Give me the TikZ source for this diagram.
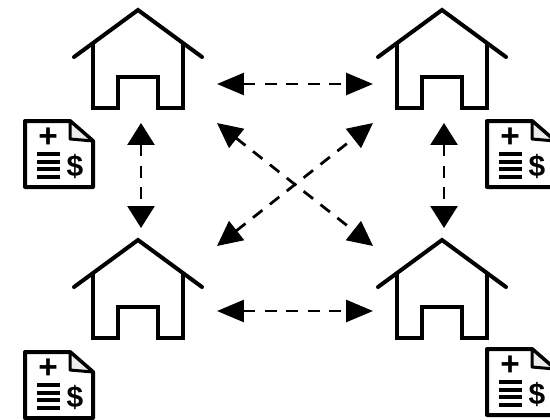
\documentclass[tikz,border=0pt]{standalone}
\usepackage{fontspec}
\setmainfont{Liberation Sans}
\usepackage{tikz}
\usetikzlibrary{positioning}
\usetikzlibrary{arrows.meta}

\tikzset{
  hub/.style={inner sep=0,outer sep=0,minimum width=150*.02cm},
  tophub/.style={hub,minimum height=78*.02cm},
  lowhub/.style={hub,minimum height=130*.02cm},
  link/.style={line width=.055cm,dash pattern=on .24cm off .19cm},
  flat/.style={link,{Triangle[length=.54cm,width=.44cm]}-{Triangle[length=.54cm,width=.44cm]}},
  slant/.style={link,{Triangle[length=.5cm,width=.48cm]}-{Triangle[length=.5cm,width=.48cm]}},
  upright/.style={link,{Triangle[length=.44cm,width=.54cm]}-{Triangle[length=.44cm,width=.54cm]}},
  house/.pic={
    \draw[line width=.08cm,line join=miter,line cap=round] (-64,47) -- (0,0) -- (64,47);
    \draw[line width=.08cm,line join=miter] (-45,33) -- (-45,98) -- (-20,98) -- (-20,67) -- (20,67) -- (20,98) -- (45,98) -- (45,33);
  },
  bill/.pic={
    \draw[line width=.08cm,line join=round] (0,0) -- (45,0) -- (68,20) -- (68,66) -- (0,66) -- cycle;
    \draw[line width=.06cm,fill=black!8,line join=round] (45,0) -- (45,18) -- (68,20) -- cycle;
    \node (plus) at (23,17) {\fontsize{19}{19}\selectfont\bfseries +};
    \foreach \y in {33,41,48,56}
      \draw[line width=.07cm] (12,\y) -- (35,\y);
    \node (dollar) at (50,46) {\fontsize{17}{17}\selectfont\bfseries \$};
  }
}

\begin{document}
\begin{tikzpicture}[x=.02cm,y=-.02cm]
        \useasboundingbox (0,0) rectangle (550,419);

        \pic at (138,10) {house};
        \pic at (442,10) {house};
        \pic at (138,240) {house};
        \pic at (442,240) {house};

        \pic (BillA) at (25,121) {bill};
        \pic (BillB) at (487,121) {bill};
        \pic (BillC) at (25,352) {bill};
        \pic (BillD) at (487,349) {bill};

        \node[tophub] (A) at (142,84) {};
        \node[tophub] (B) at (448,84) {};
        \node[lowhub] (C) at (142,311) {};
        \node[lowhub] (D) at (448,311) {};

        \draw[flat] (A.east) -- (B.west);
        \draw[flat] (C.east) -- (D.west);
        \draw[slant] (A.south east) -- (D.north west);
        \draw[slant] (C.north east) -- (B.south west);
        \draw[upright,shorten >=.36cm] ([xshift=-.02cm]A.south) -- ([xshift=-.02cm]C.north);
        \draw[upright,shorten >=.36cm] ([xshift=-.08cm]B.south) -- ([xshift=-.08cm]D.north);
      \end{tikzpicture}
\end{document}
